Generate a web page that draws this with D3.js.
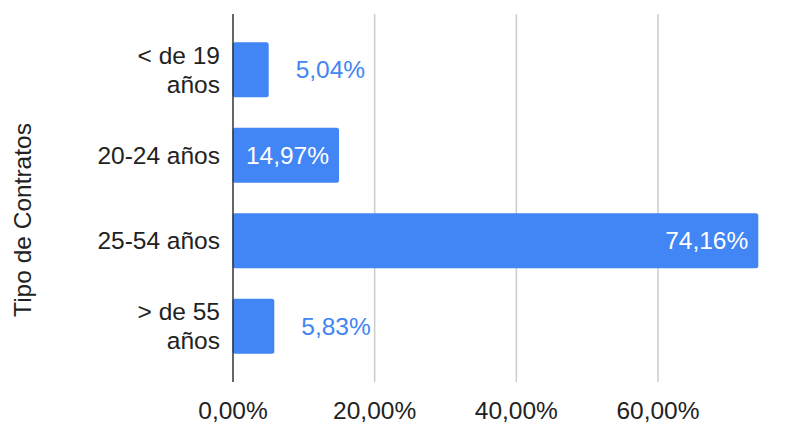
<!DOCTYPE html>
<html>
<head>
<meta charset="utf-8">
<script src="https://cdn.jsdelivr.net/npm/d3@7"></script>
<style>
  body { margin: 0; background: #fff; }
  text { font-family: Arial, "Liberation Sans", sans-serif; }
</style>
</head>
<body>
<svg id="chart" width="789" height="425"></svg>
<script>
// data
const categories = [["< de 19", "años"], ["20-24 años"], ["25-54 años"], ["> de 55", "años"]];
const values = [5.04, 14.97, 74.16, 5.83];
const tickValues = [0, 20, 40, 60];
const axisTitle = "Tipo de Contratos";

const blue = "#4285f4";
const fs = 24.5;
const fmt = v => v.toFixed(2).replace(".", ",") + "%";

const svg = d3.select("#chart");
const plotLeft = 233, plotTop = 14, plotBottom = 382;

// scales
const x = d3.scaleLinear().domain([0, 60]).range([plotLeft, plotLeft + 425]);
const y = d3.scaleBand()
    .domain(d3.range(values.length))
    .range([plotTop, plotBottom])
    .paddingInner(0.355)
    .paddingOuter(0.33);

// gridlines
svg.append("g").selectAll("line")
    .data(tickValues.filter(t => t > 0))
    .enter().append("line")
    .attr("x1", d => x(d)).attr("x2", d => x(d))
    .attr("y1", plotTop).attr("y2", plotBottom)
    .attr("stroke", "#cccccc").attr("stroke-width", 1.5);

// bars
svg.append("g").selectAll("rect")
    .data(values)
    .enter().append("rect")
    .attr("x", x(0) - 0.5)
    .attr("y", (d, i) => y(i))
    .attr("width", d => x(d) - x(0) + 0.5)
    .attr("height", y.bandwidth())
    .attr("rx", 2.5)
    .attr("fill", blue);

// zero axis line
svg.append("line")
    .attr("x1", x(0)).attr("x2", x(0))
    .attr("y1", plotTop).attr("y2", plotBottom)
    .attr("stroke", "#333333").attr("stroke-width", 1.5);

// value labels
svg.append("g").selectAll("text")
    .data(values)
    .enter().append("text")
    .attr("y", (d, i) => y(i) + y.bandwidth() / 2)
    .attr("dy", "0.35em")
    .attr("font-size", fs)
    .each(function (d) {
        const t = d3.select(this).text(fmt(d));
        if (d > 10) {
            t.attr("x", x(d) - 10).attr("text-anchor", "end").attr("fill", "#ffffff");
        } else {
            t.attr("x", x(d) + 27).attr("text-anchor", "start").attr("fill", blue);
        }
    });

// category labels
const lineH = 29;
svg.append("g").selectAll("text")
    .data(categories)
    .enter().append("text")
    .attr("text-anchor", "end")
    .attr("font-size", fs)
    .attr("fill", "#222222")
    .each(function (lines, i) {
        const cy = y(i) + y.bandwidth() / 2;
        const t = d3.select(this);
        lines.forEach((s, k) => {
            t.append("tspan")
                .attr("x", plotLeft - 13)
                .attr("y", cy + (k - (lines.length - 1) / 2) * lineH)
                .attr("dy", "0.35em")
                .text(s);
        });
    });

// x tick labels
svg.append("g").selectAll("text")
    .data(tickValues)
    .enter().append("text")
    .attr("x", d => x(d))
    .attr("y", 419)
    .attr("text-anchor", "middle")
    .attr("font-size", fs)
    .attr("fill", "#222222")
    .text(d => fmt(d));

// axis title
svg.append("text")
    .attr("transform", "translate(31," + ((plotTop + plotBottom) / 2 + 22) + ") rotate(-90)")
    .attr("text-anchor", "middle")
    .attr("font-size", fs)
    .attr("fill", "#222222")
    .text(axisTitle);
</script>
</body>
</html>
